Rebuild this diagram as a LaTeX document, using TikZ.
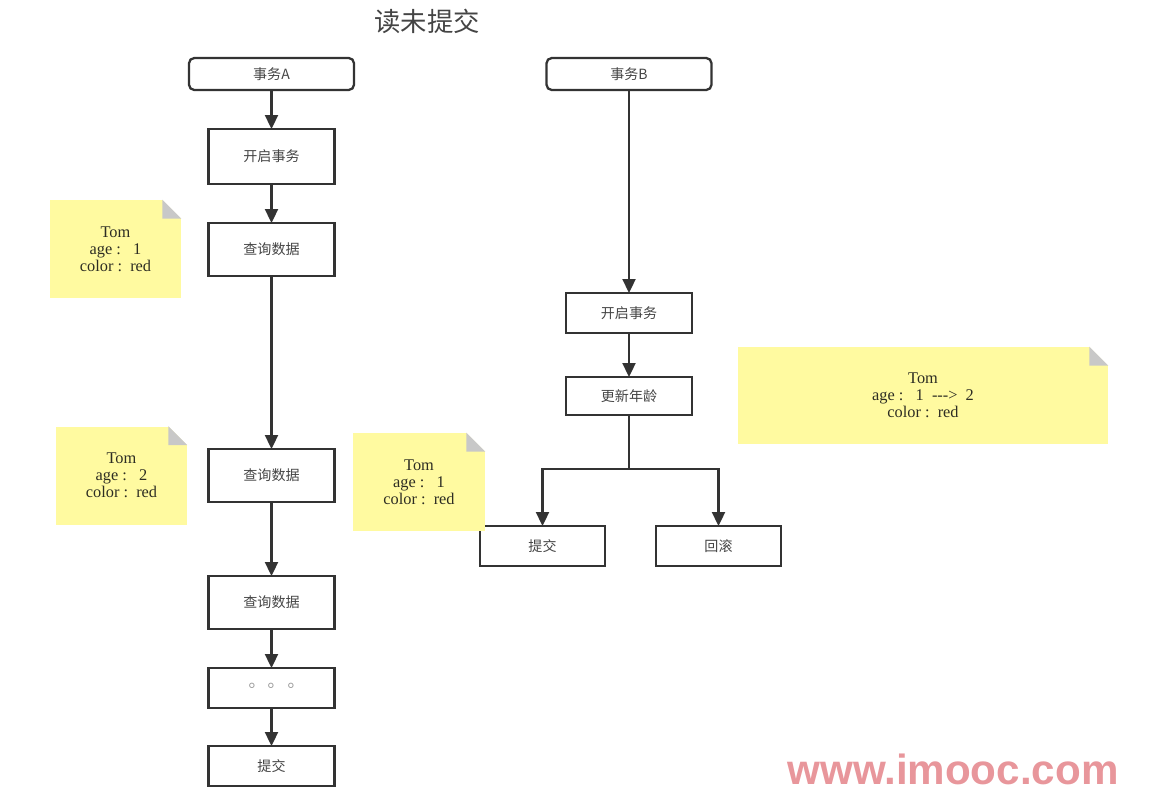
\documentclass[tikz,border=0pt]{standalone}
\usepackage{fontspec}
\setmainfont{Liberation Serif}
\newfontfamily\cjk{Noto Sans CJK SC}
\newfontfamily\cjktc{Noto Sans CJK TC}
\newfontfamily\wmfont{Liberation Sans}
\usetikzlibrary{
    positioning,
    arrows.meta
}
\definecolor{LineDark}{RGB}{51,51,51}
\definecolor{TextGray}{RGB}{68,68,68}
\definecolor{NoteYellow}{RGB}{255,250,160}
\definecolor{FoldGray}{RGB}{200,200,200}
\definecolor{NoteText}{RGB}{45,45,35}
\definecolor{MarkPink}{RGB}{232,150,155}

\begin{document}
\begin{tikzpicture}[
    node distance=0.74cm,
    txbox/.style={rectangle, rounded corners=3pt, draw=LineDark, line width=1.3pt, outer sep=0pt, minimum width=3.3cm, minimum height=0.64cm, font=\cjk\fontsize{8}{9}\selectfont, text=TextGray},
    proc/.style={rectangle, draw=LineDark, line width=1.3pt, outer sep=0pt, minimum width=2.52cm, minimum height=1.06cm, font=\cjk\fontsize{8}{9}\selectfont, text=TextGray},
    note/.style={rectangle, fill=NoteYellow, minimum width=2.62cm, minimum height=1.96cm, align=center, inner sep=0pt, font=\fontsize{9.3}{9.8}\selectfont, text=NoteText},
    arr/.style={line width=1.3pt, draw=LineDark, -{Triangle[length=2.8mm, width=2.6mm]}},
]
\useasboundingbox (0,0) rectangle (22.98,-15.84);

\node[font=\cjk\fontsize{15}{16}\selectfont, text=TextGray] (title) at (8.54,-0.42) {读未提交};

% 事务A
\node[txbox] (txA) at (5.43,-1.48) {事务A};
\node[proc, minimum height=1.1cm, below=0.78cm of txA] (beginA) {开启事务};
\node[proc, below=0.78cm of beginA] (queryA1) {查询数据};
\node[proc, below=3.46cm of queryA1] (queryA2) {查询数据};
\node[proc, below=1.48cm of queryA2] (queryA3) {查询数据};
\node[proc, minimum height=0.8cm, below=0.78cm of queryA3, text=gray!80] (moreA) {\raisebox{-4pt}{\cjktc\fontsize{10}{11}\selectfont 。\hspace{1pt}。\hspace{1pt}。}};
\node[proc, minimum height=0.8cm, below=0.76cm of moreA] (commitA) {提交};

\draw[arr] (txA) -- (beginA);
\draw[arr] (beginA) -- (queryA1);
\draw[arr] (queryA1) -- (queryA2);
\draw[arr] (queryA2) -- (queryA3);
\draw[arr] (queryA3) -- (moreA);
\draw[arr] (moreA) -- (commitA);

% 事务B
\node[txbox] (txB) at (12.58,-1.48) {事务B};
\node[proc, minimum height=0.8cm, below=4.06cm of txB] (beginB) {开启事务};
\node[proc, minimum height=0.76cm, below=0.88cm of beginB] (update) {更新年龄};
\node[proc, minimum width=2.5cm, minimum height=0.8cm] (commitB) at (10.85,-10.92) {提交};
\node[proc, minimum width=2.5cm, minimum height=0.8cm] (rollback) at (14.37,-10.92) {回滚};

\draw[arr] (txB) -- (beginB);
\draw[arr] (beginB) -- (update);
\draw[line width=1.3pt, draw=LineDark] (update.south) -- ++(0,-1.08) coordinate (fork);
\draw[arr] (fork) -| (commitB.north);
\draw[arr] (fork) -| (rollback.north);

% 数据便签
\node[note] (noteA1) at (2.31,-4.98) {Tom\\age :\ \ \ 1\\color :\ \ red};
\node[note] (noteA2) at (2.43,-9.51) {Tom\\age :\ \ \ 2\\color :\ \ red};
\node[note, minimum width=2.64cm] (noteB1) at (8.38,-9.64) {Tom\\age :\ \ \ 1\\color :\ \ red};
\node[note, minimum width=7.4cm, minimum height=1.94cm] (noteB2) at (18.46,-7.91) {Tom\\age :\ \ \ 1\ \ -{}-{}->\ \ 2\\color :\ \ red};

\foreach \n in {noteA1,noteA2,noteB1,noteB2} {
    \fill[white] ([xshift=-0.38cm]\n.north east) -- (\n.north east) -- ([yshift=-0.38cm]\n.north east) -- cycle;
    \fill[FoldGray] ([xshift=-0.38cm]\n.north east) -- ([xshift=-0.38cm, yshift=-0.38cm]\n.north east) -- ([yshift=-0.38cm]\n.north east) -- cycle;
}

\node[font=\wmfont\bfseries\fontsize{24}{26}\selectfont, text=MarkPink] (mark) at (19.06,-15.38) {www.imooc.com};
\end{tikzpicture}
\end{document}
